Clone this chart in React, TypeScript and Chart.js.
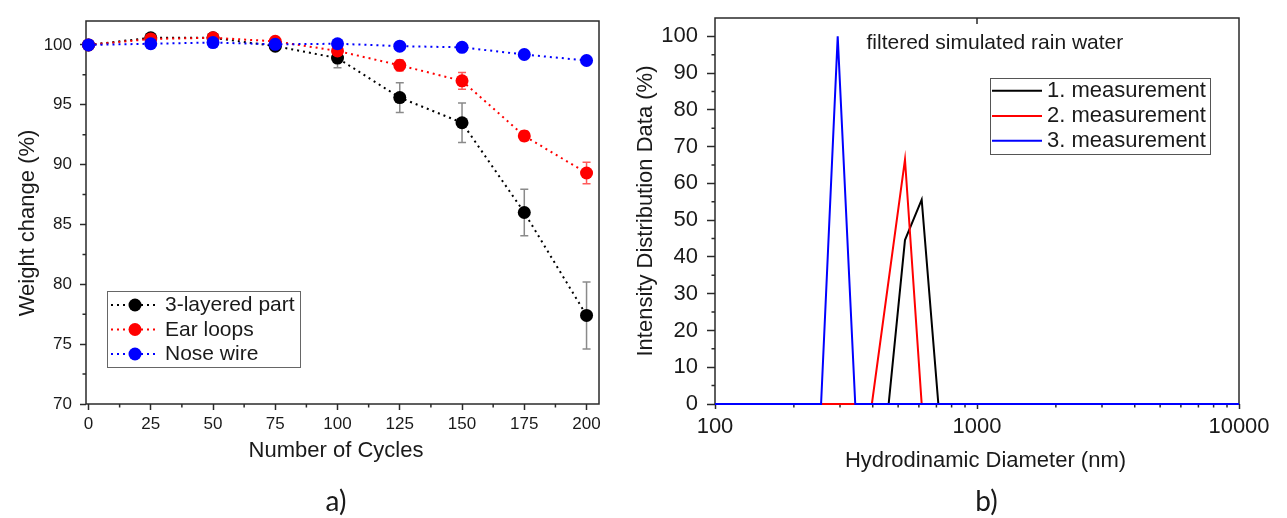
import React, { useEffect, useRef } from 'react';
import { Chart, registerables } from 'chart.js';

Chart.register(...registerables);

// ---------- Panel a) data ----------
const cycles = [0, 25, 50, 75, 100, 125, 150, 175, 200];
const layeredPart = [100, 100.6, 100.6, 99.9, 98.9, 95.6, 93.5, 86.0, 77.4];
const layeredPartErr = [0, 0, 0, 0.1, 0.8, 1.25, 1.65, 1.95, 2.8];
const earLoops = [100, 100.5, 100.6, 100.3, 99.5, 98.3, 97.0, 92.4, 89.3];
const earLoopsErr = [0, 0, 0, 0, 0.2, 0.45, 0.7, 0.4, 0.9];
const noseWire = [100, 100.1, 100.2, 100.05, 100.1, 99.9, 99.8, 99.2, 98.7];
const labelsA = ['3-layered part', 'Ear loops', 'Nose wire'];
const colorsA = ['#000000', '#ff0000', '#0000ff'];
const xTicksA = [0, 25, 50, 75, 100, 125, 150, 175, 200];
const xMinorTicksA = [12.5, 37.5, 62.5, 87.5, 112.5, 137.5, 162.5, 187.5];
const yTicksA = [70, 75, 80, 85, 90, 95, 100];
const yMinorTicksA = [72.5, 77.5, 82.5, 87.5, 92.5, 97.5];

// ---------- Panel b) data ----------
const diameter1 = [100, 460, 531, 615, 712, 10000];
const intensity1 = [0, 0, 44.6, 55.6, 0, 0];
const diameter2 = [100, 397, 531, 615, 10000];
const intensity2 = [0, 0, 66.5, 0, 0];
const diameter3 = [100, 254, 294, 343, 10000];
const intensity3 = [0, 0, 100, 0, 0];
const labelsB = ['1. measurement', '2. measurement', '3. measurement'];
const colorsB = ['#000000', '#ff0000', '#0000ff'];
const xTicksB = [100, 1000, 10000];
const xMinorTicksB = [200, 300, 400, 500, 600, 700, 800, 900, 2000, 3000, 4000, 5000, 6000, 7000, 8000, 9000];
const yTicksB = [0, 10, 20, 30, 40, 50, 60, 70, 80, 90, 100];
const yMinorTicksB = [5, 15, 25, 35, 45, 55, 65, 75, 85, 95];

const FONT = "'Liberation Sans', Arial, Helvetica, sans-serif";
const LABEL_FONT = "Lato, 'Open Sans', sans-serif";
const TEXT_COLOR = '#1a1a1a';
const AXIS_COLOR = '#2a2a2a';

function drawText(
  ctx: CanvasRenderingContext2D,
  str: string,
  x: number,
  y: number,
  size: number,
  opts: { align?: CanvasTextAlign; rotate?: number; family?: string; baseline?: CanvasTextBaseline } = {}
) {
  ctx.save();
  ctx.translate(x, y);
  if (opts.rotate) ctx.rotate(opts.rotate);
  ctx.font = `${size}px ${opts.family || FONT}`;
  ctx.fillStyle = TEXT_COLOR;
  ctx.textAlign = opts.align || 'center';
  ctx.textBaseline = opts.baseline || 'middle';
  ctx.fillText(str, 0, 0);
  ctx.restore();
}

function framePlugin(cfg: {
  minorX: number[];
  minorY: number[];
  minorLen: number;
  topTicks?: number[];
  topLen?: number;
}) {
  return {
    id: 'frameTicks',
    beforeDatasetsDraw(chart: any) {
      const { ctx, chartArea: a } = chart;
      const xs = chart.scales.x;
      const ys = chart.scales.y;
      ctx.save();
      ctx.strokeStyle = AXIS_COLOR;
      ctx.lineWidth = 1.5;
      ctx.strokeRect(a.left, a.top, a.right - a.left, a.bottom - a.top);
      ctx.beginPath();
      cfg.minorX.forEach((v) => {
        const p = xs.getPixelForValue(v);
        ctx.moveTo(p, a.bottom);
        ctx.lineTo(p, a.bottom + cfg.minorLen);
      });
      cfg.minorY.forEach((v) => {
        const p = ys.getPixelForValue(v);
        ctx.moveTo(a.left, p);
        ctx.lineTo(a.left - cfg.minorLen, p);
      });
      (cfg.topTicks || []).forEach((v) => {
        const p = xs.getPixelForValue(v);
        ctx.moveTo(p, a.top);
        ctx.lineTo(p, a.top + (cfg.topLen || 5));
      });
      ctx.stroke();
      ctx.restore();
    },
  };
}

const errorBarsPlugin = {
  id: 'errorBars',
  beforeDatasetsDraw(chart: any) {
    const { ctx } = chart;
    const xs = chart.scales.x;
    const ys = chart.scales.y;
    const specs = [
      { vals: layeredPart, err: layeredPartErr, color: '#8a8a8a' },
      { vals: earLoops, err: earLoopsErr, color: '#ff5a5a' },
    ];
    ctx.save();
    ctx.lineWidth = 1.5;
    specs.forEach((s) => {
      ctx.strokeStyle = s.color;
      cycles.forEach((c, i) => {
        if (!s.err[i]) return;
        const px = xs.getPixelForValue(c);
        const top = ys.getPixelForValue(s.vals[i] + s.err[i]);
        const bot = ys.getPixelForValue(s.vals[i] - s.err[i]);
        ctx.beginPath();
        ctx.moveTo(px, top);
        ctx.lineTo(px, bot);
        ctx.moveTo(px - 4, top);
        ctx.lineTo(px + 4, top);
        ctx.moveTo(px - 4, bot);
        ctx.lineTo(px + 4, bot);
        ctx.stroke();
      });
    });
    ctx.restore();
  },
};

const textsAPlugin = {
  id: 'textsA',
  afterDraw(chart: any) {
    const { ctx } = chart;
    drawText(ctx, 'Weight change (%)', 27.5, 223, 22, { rotate: -Math.PI / 2 });
    drawText(ctx, 'Number of Cycles', 336, 450.5, 22);
    drawText(ctx, 'a)', 336, 511, 28, { family: LABEL_FONT, baseline: 'alphabetic' });
    // legend
    ctx.save();
    ctx.strokeStyle = '#666';
    ctx.lineWidth = 1;
    ctx.strokeRect(107.5, 291.5, 193, 76);
    const rows = [305, 329.5, 354];
    labelsA.forEach((lab, i) => {
      const y = rows[i];
      ctx.save();
      ctx.strokeStyle = colorsA[i];
      ctx.lineWidth = 2;
      ctx.setLineDash([2, 4]);
      ctx.beginPath();
      ctx.moveTo(111, y);
      ctx.lineTo(158, y);
      ctx.stroke();
      ctx.restore();
      ctx.beginPath();
      ctx.fillStyle = colorsA[i];
      ctx.arc(135, y, 6.5, 0, Math.PI * 2);
      ctx.fill();
      drawText(ctx, lab, 165, y + 0.5, 21, { align: 'left' });
    });
    ctx.restore();
  },
};

const textsBPlugin = {
  id: 'textsB',
  afterDraw(chart: any) {
    const { ctx } = chart;
    drawText(ctx, 'Intensity Distribution Data (%)', 25.5, 211, 22, { rotate: -Math.PI / 2 });
    drawText(ctx, 'Hydrodinamic Diameter (nm)', 365.5, 460.5, 22);
    drawText(ctx, 'filtered simulated rain water', 246.5, 43, 21, { align: 'left' });
    drawText(ctx, 'b)', 366.5, 511, 28, { family: LABEL_FONT, baseline: 'alphabetic' });
    ctx.save();
    ctx.strokeStyle = '#555';
    ctx.lineWidth = 1;
    ctx.strokeRect(370.5, 78.5, 220, 76);
    const rows = [90.7, 116, 140.7];
    labelsB.forEach((lab, i) => {
      const y = rows[i];
      ctx.strokeStyle = colorsB[i];
      ctx.lineWidth = 2;
      ctx.beginPath();
      ctx.moveTo(372, y);
      ctx.lineTo(422, y);
      ctx.stroke();
      drawText(ctx, lab, 427, y, 22, { align: 'left' });
    });
    ctx.restore();
  },
};

function ChartA() {
  const ref = useRef<HTMLCanvasElement>(null);
  useEffect(() => {
    const series = [layeredPart, earLoops, noseWire];
    const chart = new Chart(ref.current as HTMLCanvasElement, {
      type: 'line',
      data: {
        datasets: series.map((vals, i) => ({
          label: labelsA[i],
          data: cycles.map((c, j) => ({ x: c, y: vals[j] })),
          borderColor: colorsA[i],
          backgroundColor: colorsA[i],
          borderWidth: 2,
          borderDash: [2, 4],
          pointRadius: 6.5,
          pointHoverRadius: 6.5,
          pointBorderWidth: 0,
          pointBackgroundColor: colorsA[i],
          tension: 0,
          fill: false,
          clip: false,
          order: 3 - i,
        })),
      },
      options: {
        animation: false,
        responsive: false,
        devicePixelRatio: 1,
        events: [],
        layout: { padding: { top: 21, right: 21, left: 0, bottom: 0 } },
        plugins: { legend: { display: false }, tooltip: { enabled: false } },
        scales: {
          x: {
            type: 'linear',
            min: -1,
            max: 205,
            afterBuildTicks: (s: any) => {
              s.ticks = xTicksA.map((v) => ({ value: v }));
            },
            afterFit: (s: any) => {
              s.height = 114;
              s.paddingLeft = 0;
              s.paddingRight = 0;
            },
            border: { display: false },
            grid: { drawOnChartArea: false, drawTicks: true, tickLength: 6, tickColor: AXIS_COLOR, tickWidth: 1.5 },
            ticks: {
              padding: 4,
              autoSkip: false,
              maxRotation: 0,
              color: TEXT_COLOR,
              font: { family: FONT, size: 17 },
              callback: (v: any) => String(v),
            },
          },
          y: {
            type: 'linear',
            min: 70,
            max: 102,
            afterBuildTicks: (s: any) => {
              s.ticks = yTicksA.map((v) => ({ value: v }));
            },
            afterFit: (s: any) => {
              s.width = 86;
              s.paddingTop = 0;
              s.paddingBottom = 0;
            },
            border: { display: false },
            grid: { drawOnChartArea: false, drawTicks: true, tickLength: 6, tickColor: AXIS_COLOR, tickWidth: 1.5 },
            ticks: {
              padding: 8,
              autoSkip: false,
              color: TEXT_COLOR,
              font: { family: FONT, size: 17 },
              callback: (v: any) => String(v),
            },
          },
        },
      } as any,
      plugins: [
        framePlugin({ minorX: xMinorTicksA, minorY: yMinorTicksA, minorLen: 3.5 }),
        errorBarsPlugin,
        textsAPlugin,
      ],
    });
    return () => chart.destroy();
  }, []);
  return <canvas ref={ref} width={620} height={518} style={{ position: 'absolute', left: 0, top: 0 }} />;
}

function ChartB() {
  const ref = useRef<HTMLCanvasElement>(null);
  useEffect(() => {
    const xs = [diameter1, diameter2, diameter3];
    const ys = [intensity1, intensity2, intensity3];
    const chart = new Chart(ref.current as HTMLCanvasElement, {
      type: 'line',
      data: {
        datasets: xs.map((dx, i) => ({
          label: labelsB[i],
          data: dx.map((d, j) => ({ x: d, y: ys[i][j] })),
          borderColor: colorsB[i],
          backgroundColor: colorsB[i],
          borderWidth: 2,
          pointRadius: 0,
          pointHoverRadius: 0,
          tension: 0,
          fill: false,
          clip: false,
          order: 3 - i,
        })),
      },
      options: {
        animation: false,
        responsive: false,
        devicePixelRatio: 1,
        events: [],
        layout: { padding: { top: 18, right: 48, left: 0, bottom: 0 } },
        plugins: { legend: { display: false }, tooltip: { enabled: false } },
        scales: {
          x: {
            type: 'logarithmic',
            min: 100,
            max: 10000,
            afterBuildTicks: (s: any) => {
              s.ticks = xTicksB.map((v) => ({ value: v }));
            },
            afterFit: (s: any) => {
              s.height = 114;
              s.paddingLeft = 0;
              s.paddingRight = 0;
            },
            border: { display: false },
            grid: { drawOnChartArea: false, drawTicks: true, tickLength: 5, tickColor: AXIS_COLOR, tickWidth: 1.5 },
            ticks: {
              padding: 5,
              autoSkip: false,
              maxRotation: 0,
              color: TEXT_COLOR,
              font: { family: FONT, size: 22 },
              callback: (v: any) => String(v),
            },
          },
          y: {
            type: 'linear',
            min: 0,
            max: 105,
            afterBuildTicks: (s: any) => {
              s.ticks = yTicksB.map((v) => ({ value: v }));
            },
            afterFit: (s: any) => {
              s.width = 95;
              s.paddingTop = 0;
              s.paddingBottom = 0;
            },
            border: { display: false },
            grid: { drawOnChartArea: false, drawTicks: true, tickLength: 8, tickColor: AXIS_COLOR, tickWidth: 1.5 },
            ticks: {
              padding: 9,
              autoSkip: false,
              color: TEXT_COLOR,
              font: { family: FONT, size: 22 },
              callback: (v: any) => String(v),
            },
          },
        },
      } as any,
      plugins: [
        framePlugin({ minorX: xMinorTicksB, minorY: yMinorTicksB, minorLen: 3.5, topTicks: [1000], topLen: 6 }),
        textsBPlugin,
      ],
    });
    return () => chart.destroy();
  }, []);
  return <canvas ref={ref} width={667} height={518} style={{ position: 'absolute', left: 620, top: 0 }} />;
}

export default function App() {
  return (
    <div style={{ position: 'absolute', left: 0, top: 0, width: 1287, height: 518, background: '#ffffff', overflow: 'hidden' }}>
      <ChartA />
      <ChartB />
    </div>
  );
}
